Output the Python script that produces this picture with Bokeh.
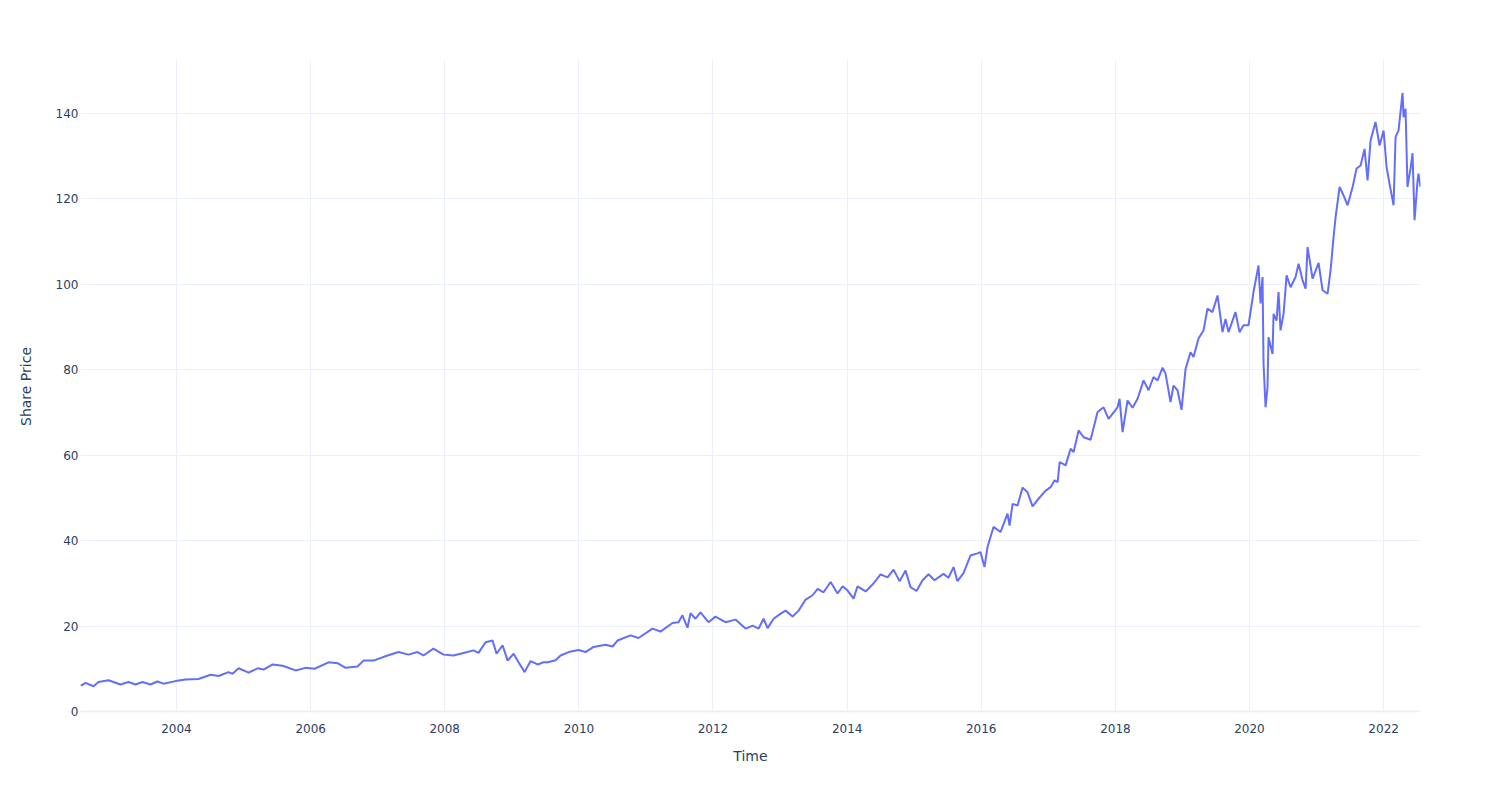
from datetime import datetime, timedelta
from bokeh.plotting import figure
from bokeh.models import Range1d, FixedTicker, DatetimeTickFormatter, Span
from bokeh.embed import file_html
from bokeh.resources import INLINE

# ---- data (decimal year, share price) ----
years = [
    2002.568, 2002.583, 2002.643, 2002.762, 2002.837, 2002.986, 2003.165, 2003.284, 2003.389, 2003.493,
    2003.612, 2003.717, 2003.806, 2003.985, 2004.134, 2004.328, 2004.507, 2004.626, 2004.775, 2004.835,
    2004.925, 2005.074, 2005.208, 2005.297, 2005.432, 2005.581, 2005.775, 2005.924, 2006.058, 2006.267,
    2006.401, 2006.520, 2006.699, 2006.789, 2006.938, 2007.147, 2007.311, 2007.460, 2007.594, 2007.683,
    2007.832, 2007.982, 2008.131, 2008.280, 2008.429, 2008.503, 2008.608, 2008.712, 2008.772, 2008.861,
    2008.936, 2009.025, 2009.100, 2009.189, 2009.279, 2009.383, 2009.473, 2009.532, 2009.652, 2009.726,
    2009.846, 2009.995, 2010.099, 2010.218, 2010.397, 2010.502, 2010.576, 2010.770, 2010.889, 2011.098,
    2011.217, 2011.396, 2011.486, 2011.545, 2011.620, 2011.665, 2011.739, 2011.814, 2011.933, 2012.037,
    2012.187, 2012.336, 2012.485, 2012.590, 2012.679, 2012.754, 2012.813, 2012.903, 2013.007, 2013.082,
    2013.186, 2013.276, 2013.380, 2013.484, 2013.559, 2013.648, 2013.753, 2013.857, 2013.932, 2014.006,
    2014.096, 2014.155, 2014.275, 2014.379, 2014.498, 2014.603, 2014.692, 2014.782, 2014.871, 2014.946,
    2015.035, 2015.125, 2015.214, 2015.303, 2015.437, 2015.512, 2015.587, 2015.646, 2015.736, 2015.840,
    2015.944, 2015.989, 2016.049, 2016.094, 2016.183, 2016.288, 2016.392, 2016.422, 2016.467, 2016.541,
    2016.616, 2016.690, 2016.765, 2016.854, 2016.959, 2017.033, 2017.093, 2017.138, 2017.168, 2017.257,
    2017.332, 2017.376, 2017.451, 2017.526, 2017.630, 2017.734, 2017.824, 2017.898, 2018.032, 2018.062,
    2018.107, 2018.181, 2018.256, 2018.331, 2018.420, 2018.495, 2018.569, 2018.629, 2018.704, 2018.748,
    2018.823, 2018.867, 2018.927, 2018.987, 2019.047, 2019.121, 2019.166, 2019.240, 2019.315, 2019.374,
    2019.449, 2019.524, 2019.598, 2019.643, 2019.688, 2019.792, 2019.852, 2019.911, 2019.986, 2020.061,
    2020.135, 2020.165, 2020.195, 2020.210, 2020.240, 2020.269, 2020.284, 2020.344, 2020.359, 2020.404,
    2020.433, 2020.463, 2020.508, 2020.553, 2020.612, 2020.687, 2020.731, 2020.791, 2020.836, 2020.865,
    2020.940, 2021.029, 2021.089, 2021.164, 2021.208, 2021.253, 2021.283, 2021.343, 2021.402, 2021.462,
    2021.537, 2021.596, 2021.656, 2021.715, 2021.760, 2021.805, 2021.879, 2021.939, 2021.999, 2022.044,
    2022.088, 2022.148, 2022.178, 2022.222, 2022.282, 2022.297, 2022.327, 2022.356, 2022.401, 2022.431,
    2022.461, 2022.506, 2022.520, 2022.550,
]
prices = [
    6.2, 6.1, 6.7, 5.9, 6.9, 7.3, 6.3, 6.9, 6.3, 6.9,
    6.3, 7.0, 6.5, 7.1, 7.5, 7.6, 8.6, 8.3, 9.2, 8.8,
    10.1, 9.1, 10.1, 9.8, 11.0, 10.7, 9.6, 10.2, 10.0, 11.5,
    11.3, 10.2, 10.5, 11.9, 11.9, 13.1, 13.9, 13.3, 13.9, 13.1,
    14.7, 13.3, 13.1, 13.7, 14.3, 13.7, 16.2, 16.6, 13.5, 15.5,
    11.9, 13.5, 11.5, 9.2, 11.8, 11.0, 11.5, 11.5, 12.0, 13.1,
    13.9, 14.4, 13.9, 15.1, 15.6, 15.2, 16.6, 17.8, 17.2, 19.4,
    18.7, 20.7, 20.9, 22.5, 19.6, 23.0, 21.7, 23.2, 20.9, 22.2,
    20.9, 21.5, 19.4, 20.1, 19.4, 21.7, 19.5, 21.7, 22.9, 23.6,
    22.2, 23.6, 26.2, 27.2, 28.7, 27.9, 30.3, 27.6, 29.3, 28.3,
    26.4, 29.3, 28.1, 29.7, 32.1, 31.4, 33.2, 30.5, 33.0, 29.1,
    28.2, 30.7, 32.1, 30.7, 32.2, 31.3, 33.8, 30.5, 32.4, 36.5,
    37.0, 37.3, 33.8, 38.5, 43.2, 42.0, 46.3, 43.5, 48.6, 48.2,
    52.4, 51.3, 48.0, 49.8, 51.7, 52.5, 54.1, 53.7, 58.4, 57.6,
    61.5, 60.7, 65.8, 64.2, 63.6, 70.1, 71.2, 68.5, 71.2, 73.2,
    65.4, 72.8, 71.1, 73.2, 77.5, 75.2, 78.3, 77.5, 80.5, 79.1,
    72.4, 76.3, 75.2, 70.6, 80.2, 84.1, 83.0, 87.3, 89.2, 94.3,
    93.5, 97.4, 88.8, 91.9, 88.8, 93.5, 88.8, 90.4, 90.4, 98.2,
    104.4, 95.5, 101.7, 81.4, 71.2, 75.9, 87.6, 83.7, 93.1, 91.5,
    98.2, 89.2, 93.1, 102.1, 99.3, 101.7, 104.8, 100.9, 99.0, 108.7,
    101.3, 105.0, 98.6, 97.8, 103.3, 111.1, 115.7, 122.8, 120.8, 118.5,
    122.8, 127.1, 127.8, 131.7, 124.3, 133.7, 138.0, 132.5, 136.0, 127.4,
    123.5, 118.5, 134.5, 136.0, 144.8, 139.1, 141.1, 122.8, 127.1, 130.7,
    115.0, 124.3, 125.9, 122.8,
]
x_tick_years = [2004, 2006, 2008, 2010, 2012, 2014, 2016, 2018, 2020, 2022]
y_ticks = [0, 20, 40, 60, 80, 100, 120, 140]
x_title = "Time"
y_title = "Share Price"


def to_dt(y):
    yr = int(y)
    start = datetime(yr, 1, 1)
    end = datetime(yr + 1, 1, 1)
    return start + timedelta(seconds=(y - yr) * (end - start).total_seconds())


def to_ms(d):
    return (d - datetime(1970, 1, 1)).total_seconds() * 1000.0


dates = [to_dt(y) for y in years]

TEXT = "#2a3f5f"
GRID = "#EBF0F8"
FONT = "DejaVu Sans"

p = figure(
    width=1500, height=800, x_axis_type="datetime",
    output_backend="svg", toolbar_location=None,
    min_border_left=80, min_border_right=80, min_border_top=60, min_border_bottom=88,
)
p.x_range = Range1d(dates[0], dates[-1])
p.y_range = Range1d(-0.25, 152.4)

p.line(dates, prices, line_color="#636efa", line_width=2)

p.add_layout(Span(location=0, dimension="width", line_color=GRID, line_width=2))

p.outline_line_color = None
p.background_fill_color = "white"
p.border_fill_color = "white"

p.xaxis.ticker = FixedTicker(ticks=[to_ms(datetime(y, 1, 1)) for y in x_tick_years])
p.xaxis.formatter = DatetimeTickFormatter(
    years="%Y", months="%Y", days="%Y", hours="%Y", hourmin="%Y",
    minutes="%Y", minsec="%Y", seconds="%Y", milliseconds="%Y", microseconds="%Y",
)
p.yaxis.ticker = FixedTicker(ticks=y_ticks)

for ax in (p.xaxis, p.yaxis):
    ax.axis_line_color = None
    ax.major_tick_line_color = None
    ax.minor_tick_line_color = None
    ax.major_tick_out = 0
    ax.major_tick_in = 0
    ax.minor_tick_out = 0
    ax.major_label_text_font = FONT
    ax.major_label_text_font_size = "12px"
    ax.major_label_text_color = TEXT
    ax.axis_label_text_font = FONT
    ax.axis_label_text_font_size = "14px"
    ax.axis_label_text_color = TEXT
    ax.axis_label_text_font_style = "normal"

p.xaxis.axis_label = x_title
p.yaxis.axis_label = y_title
p.xaxis.major_label_standoff = 11
p.yaxis.major_label_standoff = 2
p.xaxis.axis_label_standoff = 12
p.yaxis.axis_label_standoff = 19

p.xgrid.grid_line_color = GRID
p.ygrid.grid_line_color = GRID
p.xgrid.grid_line_width = 1
p.ygrid.grid_line_width = 1

open("out.html", "w").write(file_html(p, INLINE))
